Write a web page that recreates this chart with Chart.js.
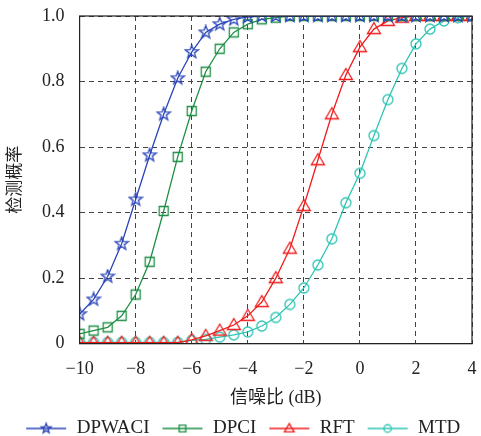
<!DOCTYPE html>
<html>
<head>
<meta charset="utf-8">
<script src="https://cdn.jsdelivr.net/npm/chart.js@4/dist/chart.umd.min.js"></script>
<style>
  html, body { margin: 0; padding: 0; background: #fff; }
  #wrap { width: 481px; height: 436px; }
</style>
</head>
<body>
<div id="wrap"><canvas id="pdChart"></canvas></div>
<script>
// SNR (dB) sample points
const snrDb = [-10, -9.5, -9, -8.5, -8, -7.5, -7, -6.5, -6, -5.5, -5, -4.5, -4, -3.5, -3,
  -2.5, -2, -1.5, -1, -0.5, 0, 0.5, 1, 1.5, 2, 2.5, 3, 3.5, 4];

// detection probability per method
const pdDPWACI = [0.09, 0.135, 0.205, 0.305, 0.44, 0.575, 0.70, 0.81, 0.89, 0.95, 0.975, 0.99, 0.997, 1,
  1, 1, 1, 1, 1, 1, 1, 1, 1, 1, 1, 1, 1, 1, 1];
const pdDPCI = [0.03, 0.04, 0.05, 0.085, 0.15, 0.25, 0.405, 0.57, 0.71, 0.83, 0.90, 0.95, 0.975, 0.99, 0.995,
  1, 1, 1, 1, 1, 1, 1, 1, 1, 1, 1, 1, 1, 1];
const pdRFT = [0.003, 0.003, 0.003, 0.003, 0.003, 0.003, 0.003, 0.003, 0.012, 0.024, 0.04, 0.057, 0.085, 0.127,
  0.20, 0.29, 0.42, 0.56, 0.70, 0.82, 0.905, 0.96, 0.985, 0.995, 1, 1, 1, 1, 1];
const pdMTD = [0.004, 0.004, 0.004, 0.004, 0.004, 0.004, 0.004, 0.004, 0.01, 0.013, 0.02, 0.027, 0.036, 0.054,
  0.08, 0.12, 0.17, 0.24, 0.32, 0.43, 0.52, 0.635, 0.745, 0.84, 0.915, 0.96, 0.985, 0.995, 1];

const seriesNames = ['DPWACI', 'DPCI', 'RFT', 'MTD'];

const xTicks = [-10, -8, -6, -4, -2, 0, 2, 4];
const yTicks = [0, 0.2, 0.4, 0.6, 0.8, 1.0];

const colors = ['#2a45b8', '#1f8f45', '#f01c1c', '#2ec4b4'];
const serif = '"Liberation Serif", "DejaVu Serif", "Noto Sans CJK SC", serif';

// draws one marker shape at (cx, cy), k scales it
function drawMarker(ctx, shape, cx, cy, color, k) {
    ctx.strokeStyle = color;
    ctx.lineWidth = 1.3;
    ctx.beginPath();
    if (shape === 'star') {
        const ro = 6.8 * k, ri = 2.8 * k;
        for (let i = 0; i < 10; i++) {
            const r = i % 2 === 0 ? ro : ri;
            const a = -Math.PI / 2 + i * Math.PI / 5;
            const px = cx + r * Math.cos(a), py = cy + r * Math.sin(a);
            if (i === 0) ctx.moveTo(px, py); else ctx.lineTo(px, py);
        }
        ctx.closePath();
    } else if (shape === 'rect') {
        ctx.rect(cx - 4.5 * k, cy - 4.5 * k, 9 * k, 9 * k);
    } else if (shape === 'triangle') {
        ctx.moveTo(cx, cy - 6.5 * k);
        ctx.lineTo(cx + 6.5 * k, cy + 4.5 * k);
        ctx.lineTo(cx - 6.5 * k, cy + 4.5 * k);
        ctx.closePath();
    } else {
        ctx.arc(cx, cy, 5 * k, 0, Math.PI * 2);
    }
    ctx.stroke();
}

function markerImage(shape, color) {
    const c = document.createElement('canvas');
    c.width = 16; c.height = 16;
    drawMarker(c.getContext('2d'), shape, 8, 8, color, 1);
    return c;
}

// legend sample: blank gap on the left, then line with marker
function legendImage(shape, color) {
    const c = document.createElement('canvas');
    c.width = 54; c.height = 16;
    const ctx = c.getContext('2d');
    ctx.strokeStyle = color;
    ctx.lineWidth = 1.3;
    ctx.beginPath();
    ctx.moveTo(13, 8);
    ctx.lineTo(53, 8);
    ctx.stroke();
    drawMarker(ctx, shape, 33, 8, color, 0.75);
    return c;
}

const shapes = ['star', 'rect', 'triangle', 'circle'];
const seriesValues = [pdDPWACI, pdDPCI, pdRFT, pdMTD];

const datasets = seriesNames.map((name, i) => ({
    label: name,
    data: snrDb.map((x, j) => ({ x: x, y: seriesValues[i][j] })),
    borderColor: colors[i],
    borderWidth: 1.3,
    pointStyle: markerImage(shapes[i], colors[i]),
    pointRadius: 6,
    tension: 0,
    fill: false
}));

// solid frame around the plot area
const frameBox = {
    id: 'frameBox',
    afterDatasetsDraw(chart) {
        const { ctx, chartArea: a } = chart;
        ctx.save();
        ctx.strokeStyle = '#222';
        ctx.lineWidth = 1.2;
        ctx.setLineDash([]);
        ctx.strokeRect(a.left, a.top, a.right - a.left, a.bottom - a.top);
        ctx.restore();
    }
};

// drop the legend's built-in bottom gap so it sits near the canvas edge
const tightLegend = {
    id: 'tightLegend',
    beforeLayout(chart) {
        const lg = chart.legend;
        if (lg && !lg._tight) {
            const fit = lg.fit.bind(lg);
            lg.fit = function () { fit(); this.height -= 12; };
            lg._tight = true;
        }
    }
};

const gridOpts = { color: '#444', lineWidth: 1, drawTicks: false, borderDash: [5, 4] };
const borderOpts = { display: true, color: '#222', width: 1, dash: [5, 4] };

new Chart(document.getElementById('pdChart'), {
    type: 'line',
    data: { datasets },
    options: {
        responsive: true,
        maintainAspectRatio: false,
        animation: false,
        layout: { padding: { top: 16, right: 9, left: 1.5, bottom: 0 } },
        plugins: {
            tooltip: { enabled: false },
            legend: {
                position: 'bottom',
                labels: {
                    usePointStyle: true,
                    pointStyleWidth: 54,
                    boxHeight: 16,
                    padding: 0,
                    color: '#222',
                    font: { family: serif, size: 19 },
                    generateLabels: (chart) => chart.data.datasets.map((ds, i) => ({
                        text: ds.label,
                        fontColor: '#222',
                        pointStyle: legendImage(shapes[i], colors[i]),
                        lineWidth: 0,
                        strokeStyle: 'rgba(0,0,0,0)',
                        fillStyle: 'rgba(0,0,0,0)',
                        datasetIndex: i
                    }))
                }
            }
        },
        scales: {
            x: {
                type: 'linear',
                min: -10,
                max: 4,
                afterBuildTicks: (axis) => { axis.ticks = xTicks.map(v => ({ value: v })); },
                afterFit: (axis) => { axis.paddingLeft = 0; axis.paddingRight = 0; },
                grid: gridOpts,
                border: borderOpts,
                ticks: {
                    padding: 14.5,
                    color: '#222',
                    font: { family: serif, size: 18 },
                    callback: v => v < 0 ? '\u2212' + Math.abs(v) : String(v)
                },
                title: {
                    display: true,
                    text: '信噪比 (dB)',
                    color: '#222',
                    font: { family: serif, size: 18 },
                    padding: { top: -7.1, bottom: 10.2 }
                }
            },
            y: {
                min: 0,
                max: 1,
                afterBuildTicks: (axis) => { axis.ticks = yTicks.map(v => ({ value: v })); },
                afterFit: (axis) => { axis.paddingTop = 0; axis.paddingBottom = 0; },
                grid: gridOpts,
                border: borderOpts,
                ticks: {
                    padding: 15,
                    color: '#222',
                    font: { family: serif, size: 18 },
                    callback: v => v === 0 ? '0' : v.toFixed(1)
                },
                title: {
                    display: true,
                    text: '检测概率',
                    color: '#222',
                    font: { family: serif, size: 17 },
                    padding: { top: 3.8, bottom: 1.4 }
                }
            }
        }
    },
    plugins: [frameBox, tightLegend]
});
</script>
</body>
</html>
